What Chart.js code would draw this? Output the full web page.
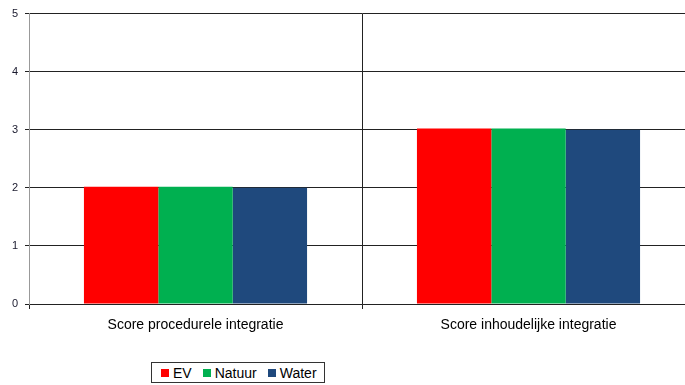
<!DOCTYPE html>
<html lang="nl">
<head>
    <meta charset="UTF-8">
    <title>Score integratie</title>
    <script src="https://cdn.jsdelivr.net/npm/chart.js"></script>
    <style>
        body { margin: 0; overflow: hidden; background: #fff; font-family: "Liberation Sans", Arial, sans-serif; }
        #wrap { position: relative; width: 685px; height: 385px; overflow: hidden; }
        #scoreChart { position: absolute; left: 0; top: 0; }
        #legend {
            position: absolute; left: 151px; top: 362px; height: 19px;
            border: 1px solid #333; background: #fff;
            display: flex; align-items: center; padding: 0 7px 0 9px;
            font-size: 14px; color: #000;
        }
        #legend span.item { display: flex; align-items: center; margin-right: 11px; }
        #legend span.item:last-child { margin-right: 0; }
        #legend i { display: inline-block; width: 8px; height: 8px; margin-right: 4px; }
    </style>
</head>
<body>
    <div id="wrap">
        <canvas id="scoreChart" width="695" height="385"></canvas>
        <div id="legend"></div>
    </div>
    <script>
        const categories = ['Score procedurele integratie', 'Score inhoudelijke integratie'];
        const seriesNames = ['EV', 'Natuur', 'Water'];
        const evValues = [2.02, 3.02];
        const natuurValues = [2.02, 3.02];
        const waterValues = [2.0, 3.0];
        const yTicks = [0, 1, 2, 3, 4, 5];

        const colors = ['#ff0000', '#00b050', '#1f497d'];
        const seriesValues = [evValues, natuurValues, waterValues];

        const datasets = seriesNames.map((name, i) => ({
            label: name,
            data: seriesValues[i],
            backgroundColor: colors[i],
            borderWidth: 0,
            categoryPercentage: 0.67,
            barPercentage: 1.0
        }));

        const ctx = document.getElementById('scoreChart').getContext('2d');
        const chart = new Chart(ctx, {
            type: 'bar',
            data: { labels: categories, datasets: datasets },
            options: {
                responsive: false,
                animation: false,
                layout: { padding: { top: 12, left: 0, right: 0, bottom: 0 } },
                plugins: {
                    legend: { display: false },
                    tooltip: { enabled: false }
                },
                scales: {
                    x: {
                        grid: { color: '#222', lineWidth: 1, tickLength: 5, offset: true, drawOnChartArea: true },
                        border: { color: '#222' },
                        ticks: {
                            color: '#000',
                            padding: 8,
                            maxRotation: 0,
                            font: { family: '"Liberation Sans", Arial, sans-serif', size: 14 }
                        },
                        afterFit: (scale) => { scale.height = 81; }
                    },
                    y: {
                        min: 0,
                        max: 5,
                        afterBuildTicks: (scale) => { scale.ticks = yTicks.map(v => ({ value: v })); },
                        grid: { color: '#222', lineWidth: 1, tickLength: 4 },
                        border: { color: '#999' },
                        ticks: {
                            color: '#1a1a2e',
                            padding: 7,
                            font: { family: '"Liberation Sans", Arial, sans-serif', size: 11 }
                        },
                        afterFit: (scale) => { scale.width = 29; }
                    }
                }
            }
        });

        // legend built from the dataset colours and labels
        const legendEl = document.getElementById('legend');
        chart.data.datasets.forEach(ds => {
            const item = document.createElement('span');
            item.className = 'item';
            const box = document.createElement('i');
            box.style.background = ds.backgroundColor;
            item.appendChild(box);
            item.appendChild(document.createTextNode(ds.label));
            legendEl.appendChild(item);
        });
    </script>
</body>
</html>
